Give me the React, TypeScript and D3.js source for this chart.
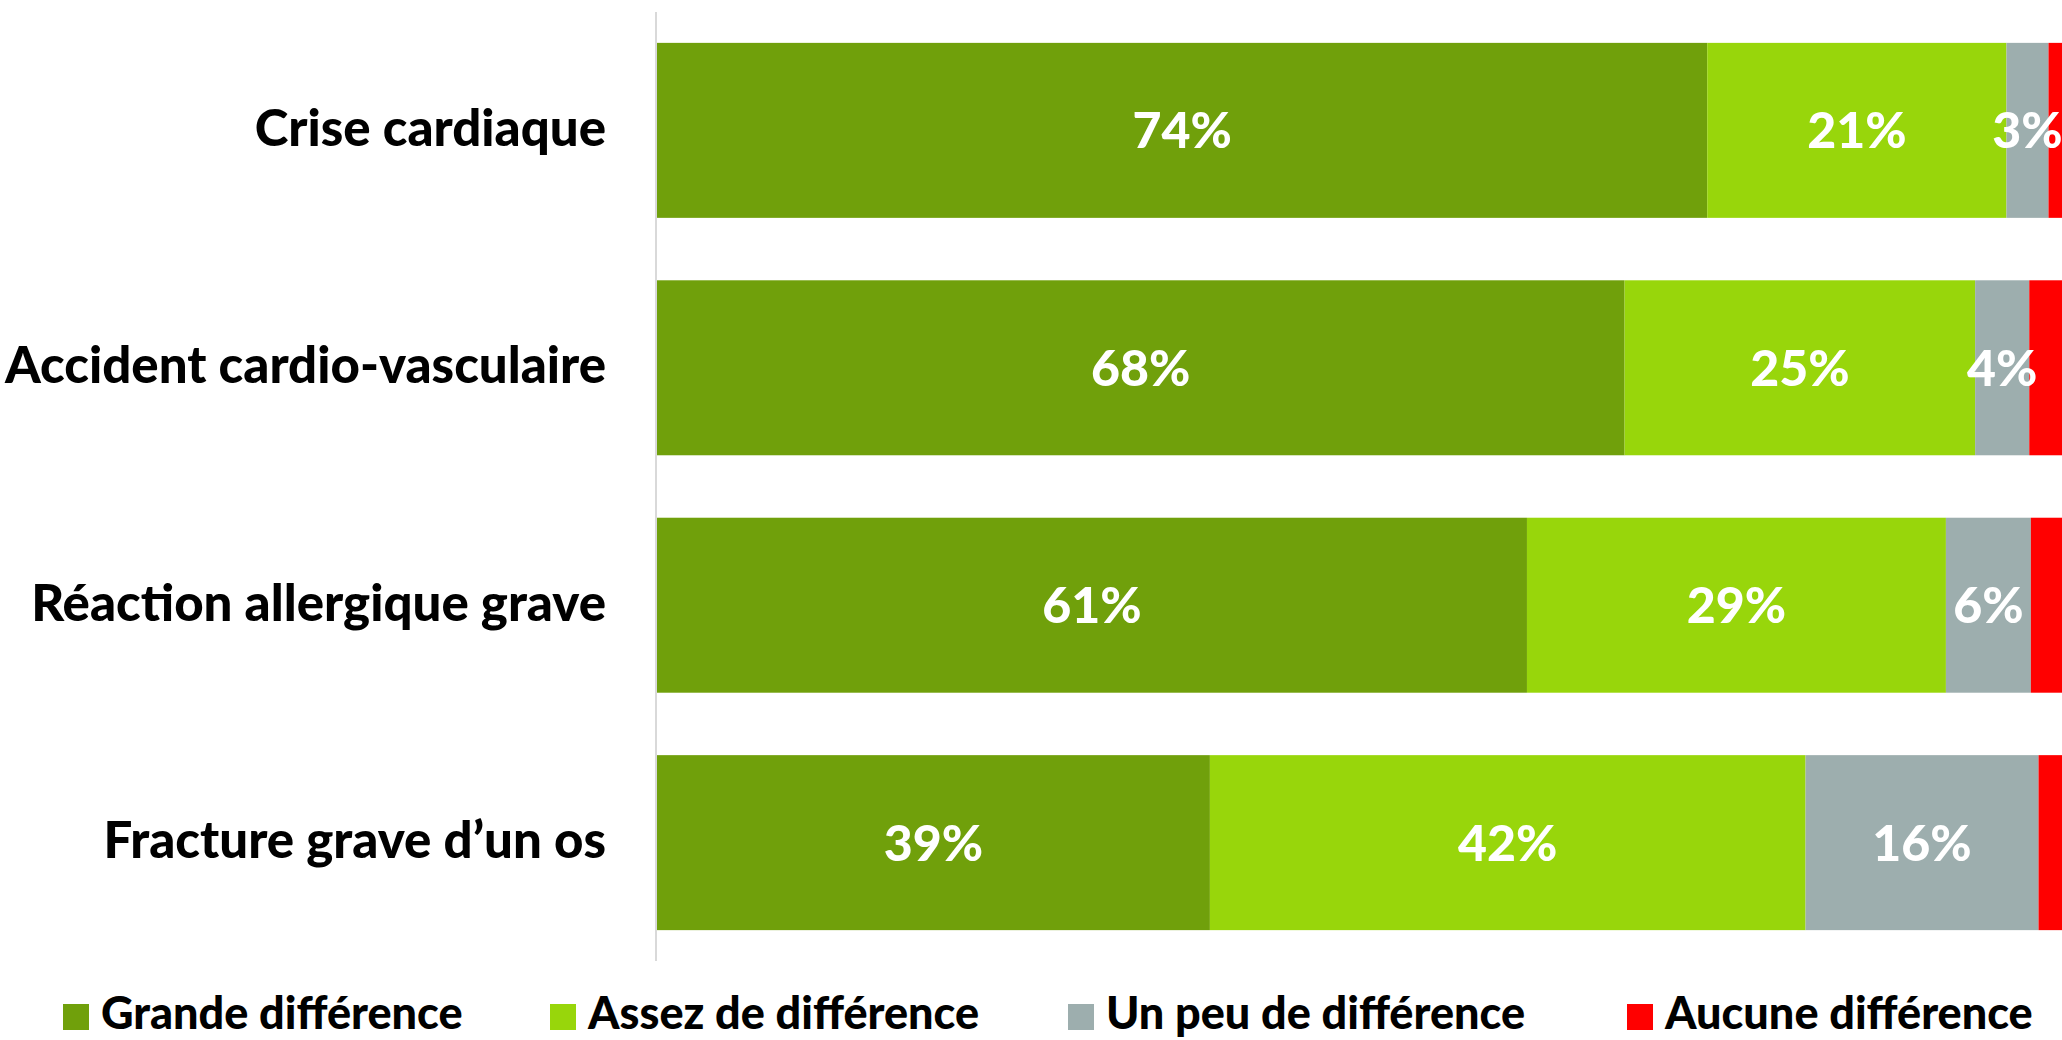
import React from "react";
import * as d3 from "d3";

// Données (en %)
const categories = [
  "Crise cardiaque",
  "Accident cardio-vasculaire",
  "Réaction allergique grave",
  "Fracture grave d\u2019un os",
];
const series = ["Grande différence", "Assez de différence", "Un peu de différence", "Aucune différence"];
const grande = [73.7, 67.9, 61.05, 38.8];
const assez = [21.0, 24.6, 29.4, 41.8];
const unPeu = [2.95, 3.8, 5.96, 16.35];
const aucune = [2.35, 3.7, 3.6, 3.05];
const colors = ["#70a00b", "#98d60b", "#9daeae", "#ff0000"];

const W = 2062;
const H = 1040;
const FONT = "Lato, 'Noto Sans', sans-serif";

export default function App() {
  const rows = categories.map((c, i) => ({
    cat: c,
    s0: grande[i],
    s1: assez[i],
    s2: unPeu[i],
    s3: aucune[i],
  }));
  const stack = d3.stack<any>().keys(["s0", "s1", "s2", "s3"])(rows);

  const x = d3.scaleLinear().domain([0, 100]).range([657, 2082]);
  const y = d3.scaleBand().domain(categories).range([12, 961]).paddingInner(0.263).paddingOuter(0.13);

  const legendX = [63, 550, 1068, 1627];

  return (
    <svg width={W} height={H} style={{ position: "absolute", left: 0, top: 0, display: "block" }}>
      <rect width={W} height={H} fill="#fff" />
      {/* axe vertical */}
      <line x1={656} x2={656} y1={12} y2={961} stroke="#d9d9d9" strokeWidth={2} />

      {stack.map((layer, k) => (
        <g key={k} fill={colors[k]}>
          {layer.map((d, i) => (
            <rect
              key={i}
              x={x(d[0])}
              y={y(categories[i])}
              width={x(d[1]) - x(d[0])}
              height={y.bandwidth()}
            />
          ))}
        </g>
      ))}

      {/* étiquettes de valeur */}
      {stack.slice(0, 3).map((layer, k) => (
        <g key={"l" + k}>
          {layer.map((d, i) => (
            <text
              key={i}
              x={(x(d[0]) + x(d[1])) / 2}
              y={y(categories[i])! + y.bandwidth() / 2}
              dy="0.36em"
              textAnchor="middle"
              fill="#fff"
              fontFamily={FONT}
              fontWeight={900}
              fontSize={50}
            >
              {Math.round(d[1] - d[0])}%
            </text>
          ))}
        </g>
      ))}

      {/* catégories */}
      {categories.map((c) => (
        <text
          key={c}
          x={606}
          y={y(c)! + y.bandwidth() / 2}
          dy="0.3em"
          textAnchor="end"
          fill="#000"
          fontFamily={FONT}
          fontWeight={900}
          fontSize={51}
        >
          {c}
        </text>
      ))}

      {/* légende */}
      {series.map((s, k) => (
        <g key={s} transform={`translate(${legendX[k]},0)`}>
          <rect x={0} y={1004} width={26} height={26} fill={colors[k]} />
          <text x={38} y={1029} fill="#000" fontFamily={FONT} fontWeight={900} fontSize={45}>
            {s}
          </text>
        </g>
      ))}
    </svg>
  );
}
